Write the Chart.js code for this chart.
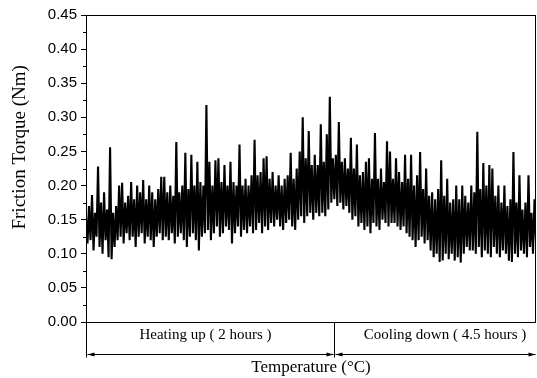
<!DOCTYPE html>
<html>
<head>
<meta charset="utf-8">
<script src="https://cdn.jsdelivr.net/npm/chart.js@4"></script>
<style>
  html, body { margin: 0; padding: 0; background: #fff; }
  #wrap { width: 537px; height: 378px; }
</style>
</head>
<body>
<div id="wrap"><canvas id="torque" width="537" height="378"></canvas></div>
<script>
const upperTorque = [
  0.155, 0.17, 0.186, 0.16, 0.228, 0.175, 0.19, 0.165, 0.256, 0.16,
  0.17, 0.2, 0.204, 0.175, 0.185, 0.205, 0.18, 0.2, 0.19, 0.208, 0.18, 0.2, 0.19, 0.18, 0.195, 0.213,
  0.213, 0.19, 0.2, 0.185, 0.264, 0.19, 0.2, 0.248, 0.195, 0.245, 0.2, 0.235, 0.205, 0.2, 0.318, 0.235, 0.2, 0.237, 0.24, 0.205, 0.23, 0.2, 0.235, 0.205, 0.2, 0.26,
  0.2, 0.21, 0.2, 0.215, 0.267, 0.215, 0.22, 0.24, 0.243, 0.21, 0.22, 0.2, 0.215, 0.2, 0.21, 0.215, 0.248, 0.21, 0.225, 0.25, 0.3, 0.24, 0.28, 0.23, 0.245,
  0.23, 0.29, 0.235, 0.275, 0.33, 0.24, 0.245, 0.293, 0.235, 0.24, 0.225, 0.27, 0.225, 0.26, 0.215, 0.22, 0.235, 0.24, 0.21, 0.277, 0.21, 0.225, 0.205, 0.265, 0.25,
  0.21, 0.24, 0.22, 0.205, 0.245, 0.21, 0.245, 0.2, 0.215, 0.249, 0.195, 0.225, 0.185, 0.19, 0.18, 0.195, 0.237, 0.185, 0.21, 0.175, 0.18, 0.2, 0.18, 0.2, 0.185, 0.175,
  0.2, 0.19, 0.279, 0.195, 0.233, 0.2, 0.23, 0.225, 0.185, 0.2, 0.175, 0.2, 0.17, 0.18, 0.249, 0.175, 0.215, 0.165, 0.175, 0.215, 0.16, 0.18
];
const lowerTorque = [
  0.115, 0.12, 0.105, 0.125, 0.11, 0.1, 0.12, 0.095, 0.092, 0.11,
  0.12, 0.125, 0.115, 0.13, 0.12, 0.125, 0.11, 0.125, 0.13, 0.115, 0.125, 0.12, 0.11, 0.125, 0.13, 0.12,
  0.125, 0.12, 0.13, 0.115, 0.125, 0.13, 0.12, 0.11, 0.125, 0.13, 0.12, 0.105, 0.125, 0.13, 0.135, 0.12, 0.13, 0.14, 0.125, 0.13, 0.14, 0.135, 0.115, 0.13, 0.14, 0.125,
  0.135, 0.13, 0.14, 0.13, 0.135, 0.145, 0.13, 0.14, 0.135, 0.145, 0.14, 0.15, 0.14, 0.135, 0.145, 0.15, 0.14, 0.135, 0.15, 0.155, 0.145, 0.155, 0.16, 0.15, 0.16,
  0.155, 0.16, 0.155, 0.165, 0.175, 0.18, 0.17, 0.175, 0.165, 0.17, 0.16, 0.15, 0.155, 0.14, 0.145, 0.135, 0.14, 0.13, 0.145, 0.14, 0.135, 0.15, 0.145, 0.14, 0.145,
  0.145, 0.14, 0.135, 0.14, 0.13, 0.125, 0.12, 0.11, 0.12, 0.125, 0.115, 0.12, 0.105, 0.095, 0.1, 0.088, 0.09, 0.1, 0.092, 0.1, 0.09, 0.095, 0.087, 0.1, 0.11, 0.105,
  0.105, 0.1, 0.11, 0.095, 0.105, 0.1, 0.095, 0.11, 0.1, 0.095, 0.105, 0.1, 0.09, 0.088, 0.1, 0.095, 0.105, 0.1, 0.095, 0.11, 0.1, 0.12
];

const yTicks = [0, 0.05, 0.1, 0.15, 0.2, 0.25, 0.3, 0.35, 0.4, 0.45];
const yTitle = 'Friction Torque (Nm)';
const phaseLabels = ['Heating up ( 2 hours )', 'Cooling down ( 4.5 hours )'];
const phaseBreak = 165; // sample index where heating stops and cooling starts

// zig-zag between band top and bottom so the trace reads as a dense noisy line
const trace = [];
upperTorque.forEach((v, i) => {
  trace.push({ x: trace.length, y: v });
  trace.push({ x: trace.length, y: lowerTorque[i] });
});

const serif = '"Liberation Serif", "Times New Roman", serif';

// frame, minor ticks, y title and the heating / cooling brackets under the axis
const framePlugin = {
  id: 'frame',
  afterDraw(chart) {
    const { ctx, chartArea: a, scales } = chart;
    ctx.save();
    ctx.strokeStyle = '#000';
    ctx.lineWidth = 1;
    ctx.strokeRect(Math.round(a.left) + 0.5, Math.round(a.top) + 0.5,
      Math.round(a.right - a.left) - 1, Math.round(a.bottom - a.top));

    // minor ticks half way between the labelled ones
    const ys = scales.y;
    ctx.beginPath();
    for (let i = 0; i < yTicks.length - 1; i++) {
      const py = Math.round(ys.getPixelForValue((yTicks[i] + yTicks[i + 1]) / 2)) + 0.5;
      ctx.moveTo(a.left - 3, py);
      ctx.lineTo(a.left, py);
    }
    ctx.stroke();

    // y title sits a bit above the middle in the original
    ctx.save();
    ctx.translate(20, ys.getPixelForValue(0.256));
    ctx.rotate(-Math.PI / 2);
    ctx.font = '19px ' + serif;
    ctx.textAlign = 'center';
    ctx.textBaseline = 'middle';
    ctx.fillStyle = '#000';
    ctx.fillText(yTitle, 0, 0);
    ctx.restore();

    const left = Math.round(a.left) + 0.5;
    const right = Math.round(a.right) - 0.5;
    const split = Math.round(scales.x.getPixelForValue(phaseBreak)) + 0.5;
    const top = Math.round(a.bottom) + 0.5;
    const arrowY = top + 32;

    ctx.beginPath();
    ctx.moveTo(left, top); ctx.lineTo(left, arrowY + 3);
    ctx.moveTo(split, top); ctx.lineTo(split, arrowY + 3);
    ctx.moveTo(left + 1, arrowY); ctx.lineTo(split - 1, arrowY);
    ctx.moveTo(split + 1, arrowY); ctx.lineTo(right, arrowY);
    ctx.stroke();

    const head = (x, dir) => {
      ctx.beginPath();
      ctx.moveTo(x, arrowY);
      ctx.lineTo(x - dir * 7, arrowY - 2);
      ctx.lineTo(x - dir * 7, arrowY + 2);
      ctx.closePath();
      ctx.fill();
    };
    ctx.fillStyle = '#000';
    head(left + 1, -1);
    head(split - 1, 1);
    head(split + 1, -1);
    head(right, 1);

    ctx.font = '15px ' + serif;
    ctx.textAlign = 'center';
    ctx.textBaseline = 'alphabetic';
    ctx.fillText(phaseLabels[0], (left + split) / 2 - 5, top + 16);
    ctx.fillText(phaseLabels[1], (split + right) / 2 + 10, top + 16);
    ctx.restore();
  }
};

new Chart(document.getElementById('torque'), {
  type: 'line',
  data: {
    datasets: [{
      data: trace,
      borderColor: '#000',
      borderWidth: 2.1,
      pointRadius: 0,
      tension: 0,
      fill: false
    }]
  },
  options: {
    responsive: false,
    animation: false,
    events: [],
    layout: { padding: { top: 15, right: 1, left: 0, bottom: 0 } },
    plugins: { legend: { display: false }, tooltip: { enabled: false } },
    scales: {
      x: {
        type: 'linear',
        min: 0,
        max: trace.length - 1,
        grid: { display: false },
        border: { display: false },
        ticks: { display: false },
        afterFit(scale) { scale.height = 56; },
        title: {
          display: true,
          text: 'Temperature (\u00B0C)',
          color: '#000',
          font: { family: serif, size: 17 },
          padding: { top: 0, bottom: 0 }
        }
      },
      y: {
        min: 0,
        max: 0.45,
        afterBuildTicks(scale) { scale.ticks = yTicks.map(v => ({ value: v })); },
        grid: { drawOnChartArea: false, drawTicks: true, tickLength: 5, color: '#000' },
        border: { display: true, color: '#000' },
        ticks: {
          color: '#000',
          padding: 4,
          font: { family: '"Liberation Sans", Arial, sans-serif', size: 15 },
          callback: v => v.toFixed(2)
        },
        afterFit(scale) { scale.width = 86; }
      }
    }
  },
  plugins: [framePlugin]
});
</script>
</body>
</html>
